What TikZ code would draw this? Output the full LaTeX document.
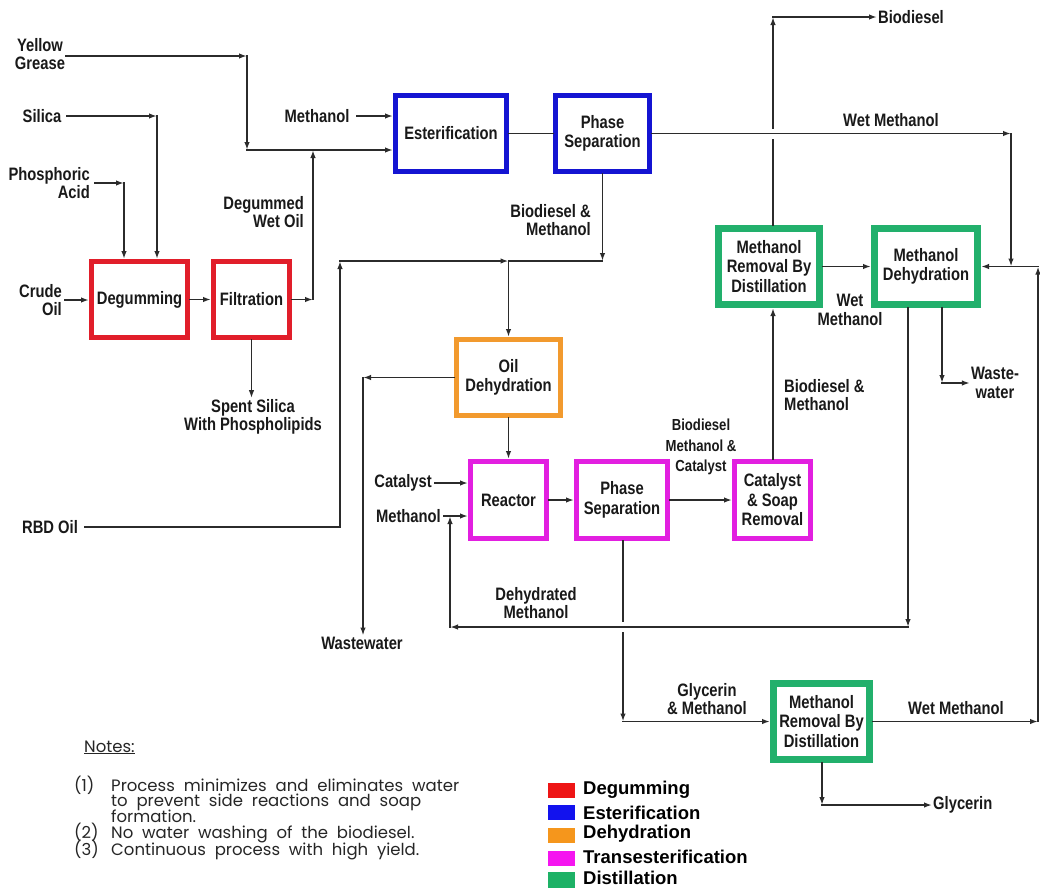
\documentclass[tikz,border=0pt]{standalone}
\usepackage{fontspec}
\usetikzlibrary{arrows.meta,calc}
\newfontfamily\flowfont[FakeStretch=0.82]{Liberation Sans}
\newfontfamily\legendfont{Liberation Sans}
\newfontfamily\notesfont[WordSpace=2]{Poppins}
\definecolor{degumC}{HTML}{E11E2A}
\definecolor{esterC}{HTML}{1414D2}
\definecolor{dehydC}{HTML}{F29A2E}
\definecolor{transC}{HTML}{E21FE0}
\definecolor{distC}{HTML}{22B06C}
\definecolor{legRed}{HTML}{EE1515}
\definecolor{legBlue}{HTML}{1212EE}
\definecolor{legOrange}{HTML}{F5961C}
\definecolor{legMagenta}{HTML}{F515F0}
\definecolor{legGreen}{HTML}{1DB266}
\definecolor{wireC}{HTML}{2B2B2B}

\begin{document}
\begin{tikzpicture}[x=1pt,y=-1pt,
  proc/.style={draw=#1, line width=5pt, fill=white, inner sep=0pt, align=center,
    font=\flowfont\bfseries\fontsize{18}{19.5}\selectfont, text=black!90},
  dist/.style={proc=distC, line width=7pt},
  lbl/.style={inner sep=1pt, align=center, text=black!90,
    font=\flowfont\bfseries\fontsize{18}{18.5}\selectfont},
  smalllbl/.style={lbl, font=\flowfont\bfseries\fontsize{16}{20.5}\selectfont},
  wire/.style={draw=wireC, line width=1.6pt, line cap=rect},
  flow/.style={wire, -{Latex[length=8pt,width=5.5pt]}},
  legsq/.style={fill=#1, draw=none, minimum width=27pt, minimum height=15pt, inner sep=0pt},
  legtxt/.style={anchor=west, inner sep=0pt, font=\legendfont\bfseries\fontsize{18.5}{20}\selectfont},
  notes/.style={anchor=base west, inner sep=0pt, text=black!85,
    font=\notesfont\fontsize{16.5}{18}\selectfont},
  gap/.style={fill=white, draw=none}
]
\useasboundingbox (0,0) rectangle (1040,887);
\fill[white] (0,0) rectangle (1040,887);

% ---------- process units ----------
\node[proc=degumC, minimum width=96pt, minimum height=76pt] (degum) at (139.5,299.5) {Degumming};
\node[proc=degumC, minimum width=76pt, minimum height=76pt] (filt) at (251.5,299.5) {Filtration};
\node[proc=esterC, minimum width=111pt, minimum height=76pt] (ester) at (451,133.5) {Esterification};
\node[proc=esterC, minimum width=94pt, minimum height=76pt] (psTop) at (602.5,133.5) {Phase\\Separation};
\node[dist, minimum width=101pt, minimum height=76pt] (mrTop) at (769,266.5) {Methanol\\Removal By\\Distillation};
\node[dist, minimum width=103pt, minimum height=76pt] (mdh) at (926,266.5) {Methanol\\Dehydration};
\node[proc=dehydC, minimum width=104pt, minimum height=76pt] (odh) at (508.5,377.5) {Oil\\Dehydration};
\node[proc=transC, minimum width=76pt, minimum height=77pt] (reac) at (508.5,500) {Reactor};
\node[proc=transC, minimum width=91pt, minimum height=77pt] (psMid) at (622,500) {Phase\\Separation};
\node[proc=transC, minimum width=76pt, minimum height=77pt] (csr) at (772.5,500) {Catalyst\\\& Soap\\Removal};
\node[dist, minimum width=96pt, minimum height=76pt] (mrBot) at (821.5,721.5) {Methanol\\Removal By\\Distillation};

% ---------- stream labels ----------
\node[lbl] (yg) at (40,54) {Yellow\\Grease};
\node[lbl] (meTop) at (317,116) {Methanol};
\node[lbl] (silica) at (42,116) {Silica};
\node[lbl, anchor=east, align=right] (phos) at (91,183) {Phosphoric\\Acid};
\node[lbl, anchor=east, align=right] (crude) at (63,300) {Crude\\Oil};
\node[lbl, anchor=east, align=right] (degwet) at (305,212) {Degummed\\Wet Oil};
\node[lbl] (spent) at (253,417) {Spent Silica\\With Phospholipids};
\node[lbl] (rbd) at (50,527) {RBD Oil};
\node[lbl, anchor=east, align=right] (bdm1) at (592,220) {Biodiesel \&\\Methanol};
\node[lbl, anchor=west] (biodiesel) at (877,17) {Biodiesel};
\node[lbl] (wetm1) at (891,120) {Wet Methanol};
\node[lbl] (wetm2) at (850,310) {Wet\\Methanol};
\node[lbl, anchor=west, align=left] (bdm2) at (783,395) {Biodiesel \&\\Methanol};
\node[smalllbl] (bmc) at (701,447) {Biodiesel\\Methanol \&\\Catalyst};
\node[lbl, anchor=east] (catalyst) at (433,483) {Catalyst};
\node[lbl, anchor=east] (methR) at (442,516) {Methanol};
\node[lbl] (dehydm) at (536,603) {Dehydrated\\Methanol};
\node[lbl] (ww1) at (362,643) {Wastewater};
\node[lbl] (ww2) at (995,383) {Waste-\\water};
\node[lbl] (glymeth) at (707,699) {Glycerin\\\& Methanol};
\node[lbl] (wetm3) at (956,708) {Wet Methanol};
\node[lbl, anchor=west] (glycerin) at (932,805) {Glycerin};

% ---------- turning points ----------
\coordinate (ygTurn) at (247,56);
\coordinate (ygJoin) at (247,150);
\coordinate (silTurn) at (157,116);
\coordinate (phTurn) at (124,183);
\coordinate (filtTurn) at (313,299.5);
\coordinate (wmTurn) at (1011,133.5);
\coordinate (odhFeed) at (508.5,261);
\coordinate (rbdTurn) at (340,527);
\coordinate (wwTurn) at (363,377.5);
\coordinate (dmTurn1) at (908,627);
\coordinate (dmTurn2) at (450,627);
\coordinate (bioTurn) at (773,17);
\coordinate (wwTurn2) at (942,383);
\coordinate (gmTurn) at (623,721.5);
\coordinate (rtTurn) at (1038,721.5);
\coordinate (rtTop) at (1038,266.5);
\coordinate (glyTurn) at (822,805);

% ---------- streams passing under crossings ----------
\draw[flow] (bioTurn |- mrTop.north) -- (bioTurn);
\draw[flow] (bioTurn) -- (biodiesel.west);
\draw[flow] (gmTurn |- psMid.south) -- (gmTurn);
\draw[flow] (gmTurn) -- (mrBot.west);
\fill[gap] ($(bioTurn |- wmTurn)+(-4,-5)$) rectangle ($(bioTurn |- wmTurn)+(4,5)$);
\fill[gap] ($(gmTurn |- dmTurn1)+(-4,-5)$) rectangle ($(gmTurn |- dmTurn1)+(4,5)$);

% wet methanol from the first phase separation
\draw[flow] (psTop.east) -- (wmTurn);
\draw[flow] (wmTurn) -- (wmTurn |- mdh.east);

% dehydrated methanol recycle
\draw[flow] (dmTurn1 |- mdh.south) -- (dmTurn1);
\draw[flow] (dmTurn1) -- (dmTurn2);
\draw[flow] (dmTurn2) -- (dmTurn2 |- methR.east);

% ---------- feeds and degumming ----------
\draw[flow] (yg.east |- ygTurn) -- (ygTurn);
\draw[flow] (ygTurn) -- (ygJoin);
\draw[flow] (ygJoin) -- (ester.west |- ygJoin);
\draw[flow, shorten <=6pt] (meTop.east) -- (ester.west |- meTop.east);
\draw[flow, shorten <=4pt] (silica.east) -- (silTurn);
\draw[flow] (silTurn) -- (silTurn |- degum.north);
\draw[flow, shorten <=4pt] (phos.east) -- (phTurn);
\draw[flow] (phTurn) -- (phTurn |- degum.north);
\draw[flow, shorten <=2pt] (crude.east) -- (degum.west |- crude.east);
\draw[flow] (degum.east) -- (filt.west);
\draw[flow] (filt.east) -- (filtTurn);
\draw[flow] (filtTurn) -- (filtTurn |- ygJoin);
\draw[flow] (filt.south) -- (filt.south |- spent.north);

% ---------- esterification ----------
\draw[wire] (ester.east) -- (psTop.west);
\draw[flow] (psTop.south) -- (psTop.south |- odhFeed);
\draw[wire] (psTop.south |- odhFeed) -- (odhFeed);

% ---------- oil dehydration ----------
\draw[wire, shorten <=6pt] (rbd.east) -- (rbdTurn);
\draw[flow] (rbdTurn) -- (rbdTurn |- odhFeed);
\draw[flow] (rbdTurn |- odhFeed) -- (odhFeed);
\draw[flow] (odhFeed) -- (odh.north);
\draw[flow] (odh.west) -- (wwTurn);
\draw[flow] (wwTurn) -- (wwTurn |- ww1.north);

% ---------- transesterification ----------
\draw[flow] (odh.south) -- (reac.north);
\draw[flow, shorten <=2pt] (catalyst.east) -- (reac.west |- catalyst.east);
\draw[flow, shorten <=2pt] (methR.east) -- (reac.west |- methR.east);
\draw[flow] (reac.east) -- (psMid.west);
\draw[flow] (psMid.east) -- (csr.west);
\draw[flow] (bioTurn |- csr.north) -- (bioTurn |- mrTop.south);

% ---------- methanol recovery ----------
\draw[flow] (mrTop.east) -- (mdh.west);
\draw[flow] (wwTurn2 |- mdh.south) -- (wwTurn2);
\draw[flow] (wwTurn2) -- (ww2.west |- wwTurn2);
\draw[flow] (mrBot.east) -- (rtTurn);
\draw[flow] (rtTurn) -- (rtTop);
\draw[flow] (rtTop) -- (mdh.east);
\draw[flow] (glyTurn |- mrBot.south) -- (glyTurn);
\draw[flow] (glyTurn) -- (glycerin.west);

% ---------- notes ----------
\node[notes] (notesHead) at (84,752) {\underline{Notes:}};
\node[notes] (n1num) at (74,791) {(1)};
\node[notes] (n1a) at (111,791) {Process minimizes and eliminates water};
\node[notes] (n1b) at (111,806.5) {to prevent side reactions and soap};
\node[notes] (n1c) at (111,822) {formation.};
\node[notes] (n2num) at (74,838) {(2)};
\node[notes] (n2) at (111,838) {No water washing of the biodiesel.};
\node[notes] (n3num) at (74,855) {(3)};
\node[notes] (n3) at (111,855) {Continuous process with high yield.};

% ---------- colour key ----------
\node[legsq=legRed] (kDeg) at (561.5,790) {};
\node[legsq=legBlue] (kEst) at (561.5,812.5) {};
\node[legsq=legOrange] (kDeh) at (561.5,835.5) {};
\node[legsq=legMagenta] (kTra) at (561.5,858.5) {};
\node[legsq=legGreen, minimum height=16pt] (kDis) at (561.5,880) {};
\node[legtxt] (tDeg) at (583,790) {Degumming};
\node[legtxt] (tEst) at (583,813) {Esterification};
\node[legtxt] (tDeh) at (583,834) {Dehydration};
\node[legtxt] (tTra) at (583,857) {Transesterification};
\node[legtxt] (tDis) at (583,877.5) {Distillation};
\end{tikzpicture}
\end{document}
